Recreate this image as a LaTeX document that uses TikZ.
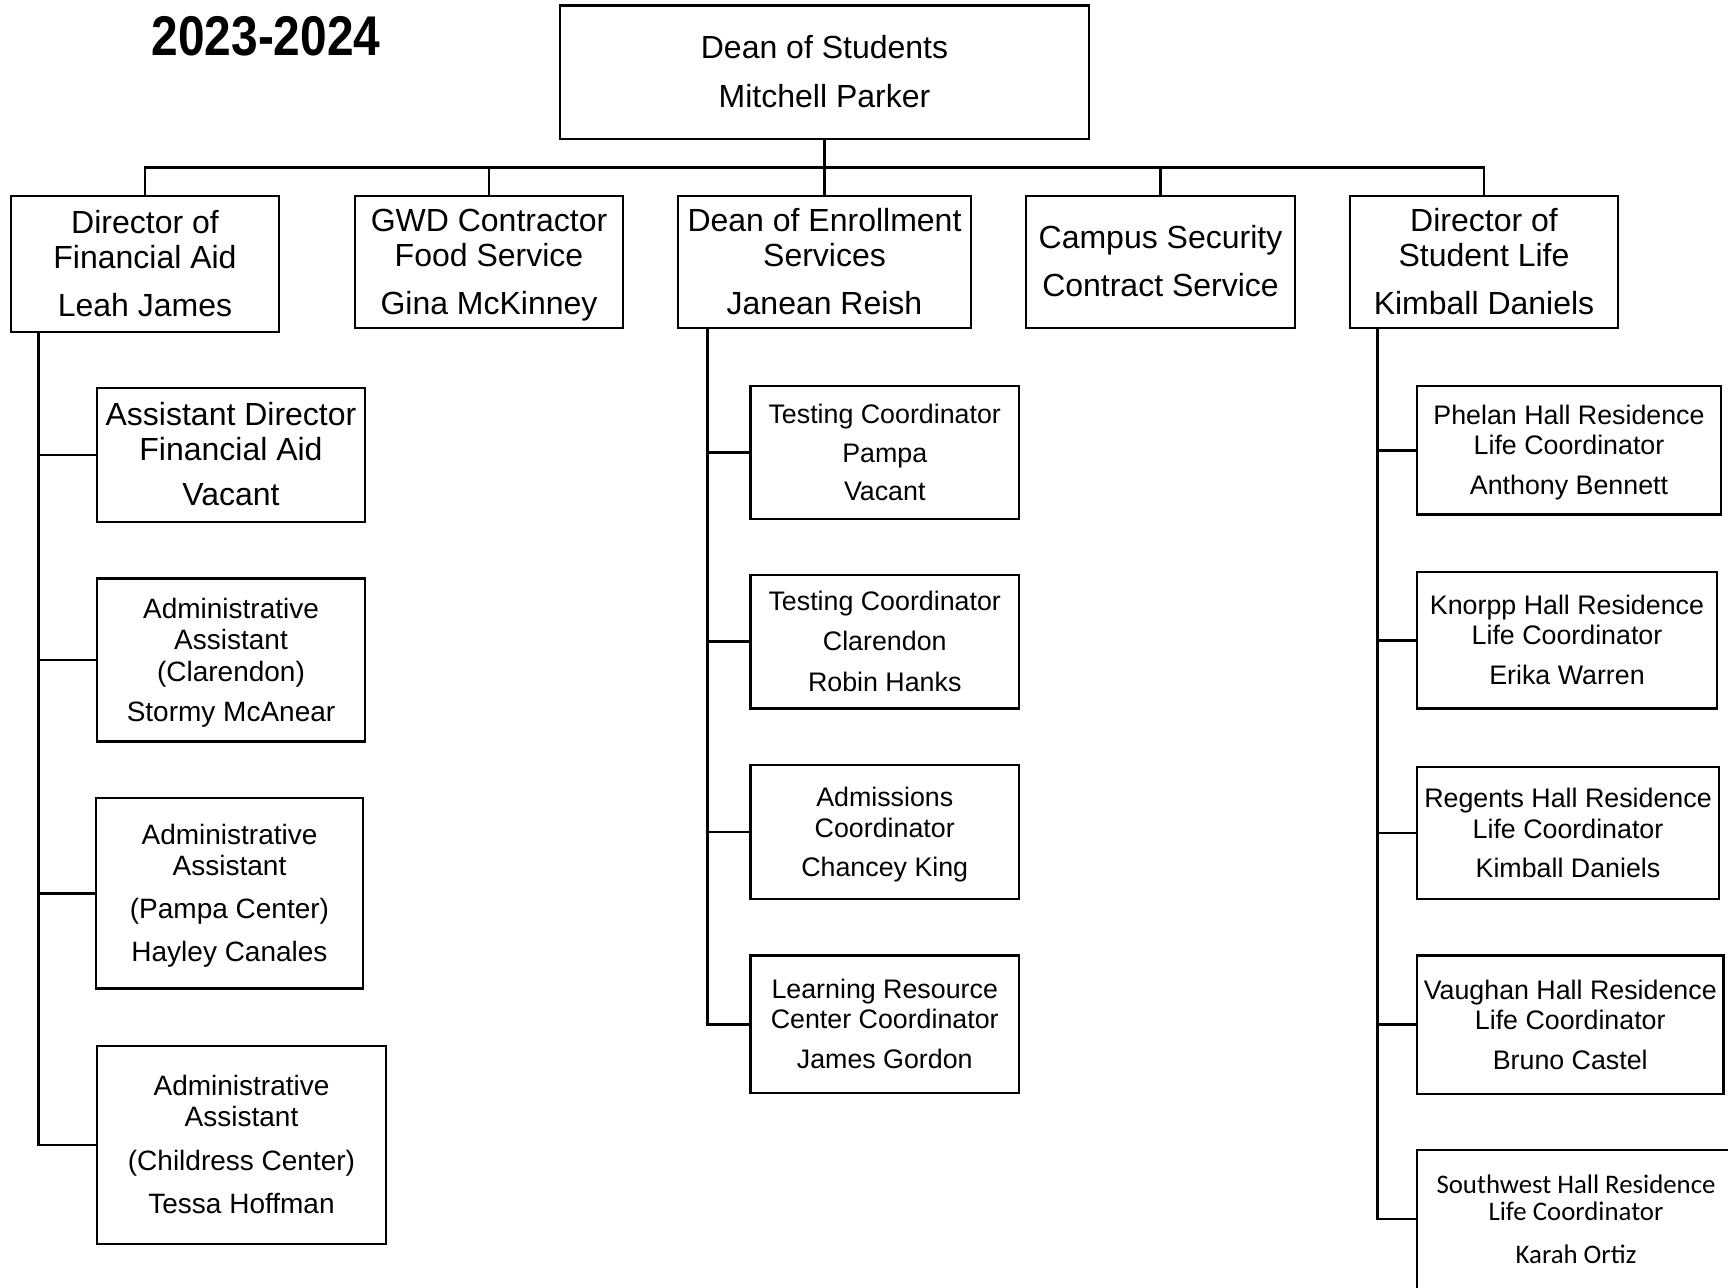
\documentclass[tikz,border=0pt]{standalone}
\usepackage{fontspec}
\setmainfont{Liberation Sans}
\newfontfamily\calibfont{Carlito}
\newcommand\stf{\vrule width 0pt height \dimexpr\ht\strutbox+4pt\relax depth \dp\strutbox}
\begin{document}
\begin{tikzpicture}[x=0.5pt,y=-0.5pt,
  box/.style={draw, line width=1.35pt, inner sep=0pt, align=center},
  conn/.style={line width=1.35pt},
  fA/.style={font=\fontsize{16}{16.5}\selectfont},
  fB/.style={font=\fontsize{14}{14.25}\selectfont},
  fC/.style={font=\fontsize{13.4}{13.75}\selectfont},
  fD/.style={font=\calibfont\fontsize{13.4}{13.5}\selectfont}]
\useasboundingbox (0,0) rectangle (1728,1287);
\clip (0,0) rectangle (1728,1287);

\node[font=\bfseries\fontsize{28}{30}\selectfont] (title) at (266,36) {\scalebox{0.855}[1]{2023-2024}};

% top
\node[box,fA,minimum width=264.5pt,minimum height=66.75pt] (dean) at (824.5,72.25)
  {\stf Dean of Students\\[7pt]\strut Mitchell Parker};

% level 2
\node[box,fA,minimum width=134pt,minimum height=68pt] (finaid) at (145,264)
  {\stf Director of\\\strut Financial Aid\\[6.5pt]\strut Leah James};
\node[box,fA,minimum width=134pt,minimum height=66pt] (gwd) at (489,262)
  {\stf GWD Contractor\\\strut Food Service\\[6.5pt]\strut Gina McKinney};
\node[box,fA,minimum width=146.5pt,minimum height=66pt] (enroll) at (824.5,262)
  {\stf Dean of Enrollment\\\strut Services\\[6.5pt]\strut Janean Reish};
\node[box,fA,minimum width=134.5pt,minimum height=66pt] (campus) at (1160.5,262)
  {\stf Campus Security\\[6.5pt]\strut Contract Service};
\node[box,fA,minimum width=134pt,minimum height=66pt] (stulife) at (1484,262)
  {\stf Director of\\\strut Student Life\\[6.5pt]\strut Kimball Daniels};

% left column
\node[box,fA,minimum width=134pt,minimum height=67pt] (asstdir) at (231,455)
  {\stf Assistant Director\\\strut Financial Aid\\[6.25pt]\strut Vacant};
\node[box,fB,minimum width=134pt,minimum height=81.5pt] (adm1) at (231,660)
  {\stf Administrative\\\strut Assistant\\[0.75pt]\strut (Clarendon)\\[5.5pt]\strut Stormy McAnear};
\node[box,fB,minimum width=133.5pt,minimum height=95.25pt] (adm2) at (229.5,893.25)
  {\stf Administrative\\\strut Assistant\\[6.25pt]\strut (Pampa Center)\\[6.25pt]\strut Hayley Canales};
\node[box,fB,minimum width=144.5pt,minimum height=99pt] (adm3) at (241.5,1145)
  {\stf Administrative\\\strut Assistant\\[6.5pt]\strut (Childress Center)\\[6.5pt]\strut Tessa Hoffman};

% middle column
\node[box,fC,minimum width=134.25pt,minimum height=66.5pt] (testp) at (884.75,452.5)
  {\stf Testing Coordinator\\[5.75pt]\strut Pampa\\[5.25pt]\strut Vacant};
\node[box,fC,minimum width=134.25pt,minimum height=66.8pt] (testc) at (884.75,641.8)
  {\stf Testing Coordinator\\[5.25pt]\strut Clarendon\\[5.75pt]\strut Robin Hanks};
\node[box,fC,minimum width=134.25pt,minimum height=67pt] (adms) at (884.75,832)
  {\stf Admissions\\[0.5pt]\strut Coordinator\\[5pt]\strut Chancey King};
\node[box,fC,minimum width=134.25pt,minimum height=68.75pt] (lrc) at (884.75,1024.25)
  {\stf Learning Resource\\\strut Center Coordinator\\[5.25pt]\strut James Gordon};

% right column
\node[box,fC,minimum width=152pt,minimum height=64.3pt] (phelan) at (1569,450.3)
  {\stf Phelan Hall Residence\\\strut Life Coordinator\\[5.5pt]\strut Anthony Bennett};
\node[box,fC,minimum width=150pt,minimum height=68.3pt] (knorpp) at (1567,640.3)
  {\stf Knorpp Hall Residence\\\strut Life Coordinator\\[5.4pt]\strut Erika Warren};
\node[box,fC,minimum width=151pt,minimum height=66pt] (regents) at (1568,833)
  {\stf Regents Hall Residence\\[0.75pt]\strut Life Coordinator\\[4.75pt]\strut Kimball Daniels};
\node[box,fC,minimum width=153.25pt,minimum height=69.25pt] (vaughan) at (1570.25,1024.75)
  {\stf Vaughan Hall Residence\\\strut Life Coordinator\\[5.25pt]\strut Bruno Castel};
\node[box,fD,minimum width=159pt,minimum height=73pt] (southwest) at (1576,1223)
  {\strut Southwest Hall Residence\\\strut Life Coordinator\\[8pt]\strut Karah Ortiz};

% connectors: top level
\coordinate (bus) at (0,167.5);
\draw[conn] (dean.south) -- (enroll.north);
\draw[conn] (finaid.north) |- (stulife.north |- bus) -- (stulife.north);
\draw[conn] (gwd.north) -- (gwd.north |- bus);
\draw[conn] (campus.north) -- (campus.north |- bus);

% left spine
\coordinate (spA) at (38.6,0);
\draw[conn] (finaid.south -| spA) |- (adm3.west);
\draw[conn] (asstdir.west) -- (asstdir.west -| spA);
\draw[conn] (adm1.west) -- (adm1.west -| spA);
\draw[conn] (adm2.west) -- (adm2.west -| spA);

% middle spine
\coordinate (spB) at (707.5,0);
\draw[conn] (enroll.south -| spB) |- (lrc.west);
\draw[conn] (testp.west) -- (testp.west -| spB);
\draw[conn] (testc.west) -- (testc.west -| spB);
\draw[conn] (adms.west) -- (adms.west -| spB);

% right spine
\coordinate (spC) at (1377.5,0);
\draw[conn] (stulife.south -| spC) |- ([yshift=2pt]southwest.west);
\draw[conn] (phelan.west) -- (phelan.west -| spC);
\draw[conn] (knorpp.west) -- (knorpp.west -| spC);
\draw[conn] (regents.west) -- (regents.west -| spC);
\draw[conn] (vaughan.west) -- (vaughan.west -| spC);
\end{tikzpicture}
\end{document}
